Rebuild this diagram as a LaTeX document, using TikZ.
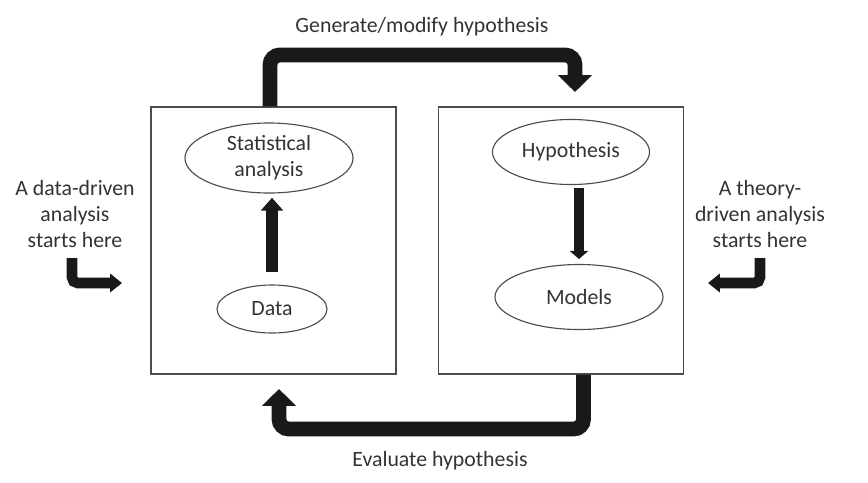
\documentclass[tikz,border=0pt]{standalone}
\usepackage{fontspec}
\setmainfont{Carlito}
\usetikzlibrary{arrows.meta,shapes.geometric}

\tikzset{
  panel/.style={draw=black!70, line width=0.8pt, minimum width=6.125cm, minimum height=6.675cm},
  oval/.style={ellipse, draw=black!70, line width=0.8pt, inner sep=0pt, align=center, text=black!80},
  txt/.style={align=center, text=black!80, inner sep=0pt},
  band/.style={line width=10.5pt, black!90, rounded corners=7pt, -{Triangle[width=23.5pt,length=12pt]}},
  stub/.style={line width=7.5pt, black!90, rounded corners=4pt, -{Triangle[width=13pt,length=8.5pt]}}
}

\begin{document}
\begin{tikzpicture}[x=0.025cm, y=-0.025cm, font=\fontsize{15.5}{18.5}\selectfont]
\useasboundingbox (0,0) rectangle (868,482);

% the two panels
\node[panel] (lbox) at (273.5,240.5) {};
\node[panel] (rbox) at (561,240.5) {};

% data-driven side
\node[oval, minimum width=4.2cm, minimum height=1.75cm] (stat) at (269,158) {Statistical\\analysis};
\node[oval, minimum width=2.75cm, minimum height=1.2cm] (data) at (272,309) {Data};
\draw[line width=8.5pt, black!90, -{Triangle[width=15.6pt,length=9.2pt]},
  shorten <=8.5pt, shorten >=3pt] (data.north) -- (data.north |- stat.south);

% theory-driven side
\node[oval, minimum width=3.925cm, minimum height=1.625cm] (hyp) at (571,152) {Hypothesis};
\node[oval, minimum width=4.2cm, minimum height=1.625cm] (models) at (579,297) {Models};
\draw[line width=7pt, black!90, -{Triangle[width=12.8pt,length=5.7pt]},
  shorten <=2pt, shorten >=3.5pt] (models.north |- hyp.south) -- (models.north);

% loop between the panels
\coordinate (gtip) at (575,92);
\coordinate (etip) at (279,389);
\draw[band] ([xshift=-2.5pt]lbox.north) |- (575,55) -- (gtip);
\draw[band] ([xshift=16pt]rbox.south) |- (279,429) -- (etip);
\node[txt] (gen) at (422,27) {Generate/modify hypothesis};
\node[txt] (eval) at (440,461) {Evaluate hypothesis};

% where each analysis starts
\node[txt] (ltext) at (75,214) {A data-driven\\analysis\\starts here};
\node[txt] (rtext) at (760,214) {A theory-\\driven analysis\\starts here};
\coordinate (lstart) at (72,258);
\coordinate (lend) at (122,283);
\coordinate (rstart) at (760,258);
\coordinate (rend) at (708,283);
\draw[stub] (lstart) |- (lend);
\draw[stub] (rstart) |- (rend);
\end{tikzpicture}
\end{document}
